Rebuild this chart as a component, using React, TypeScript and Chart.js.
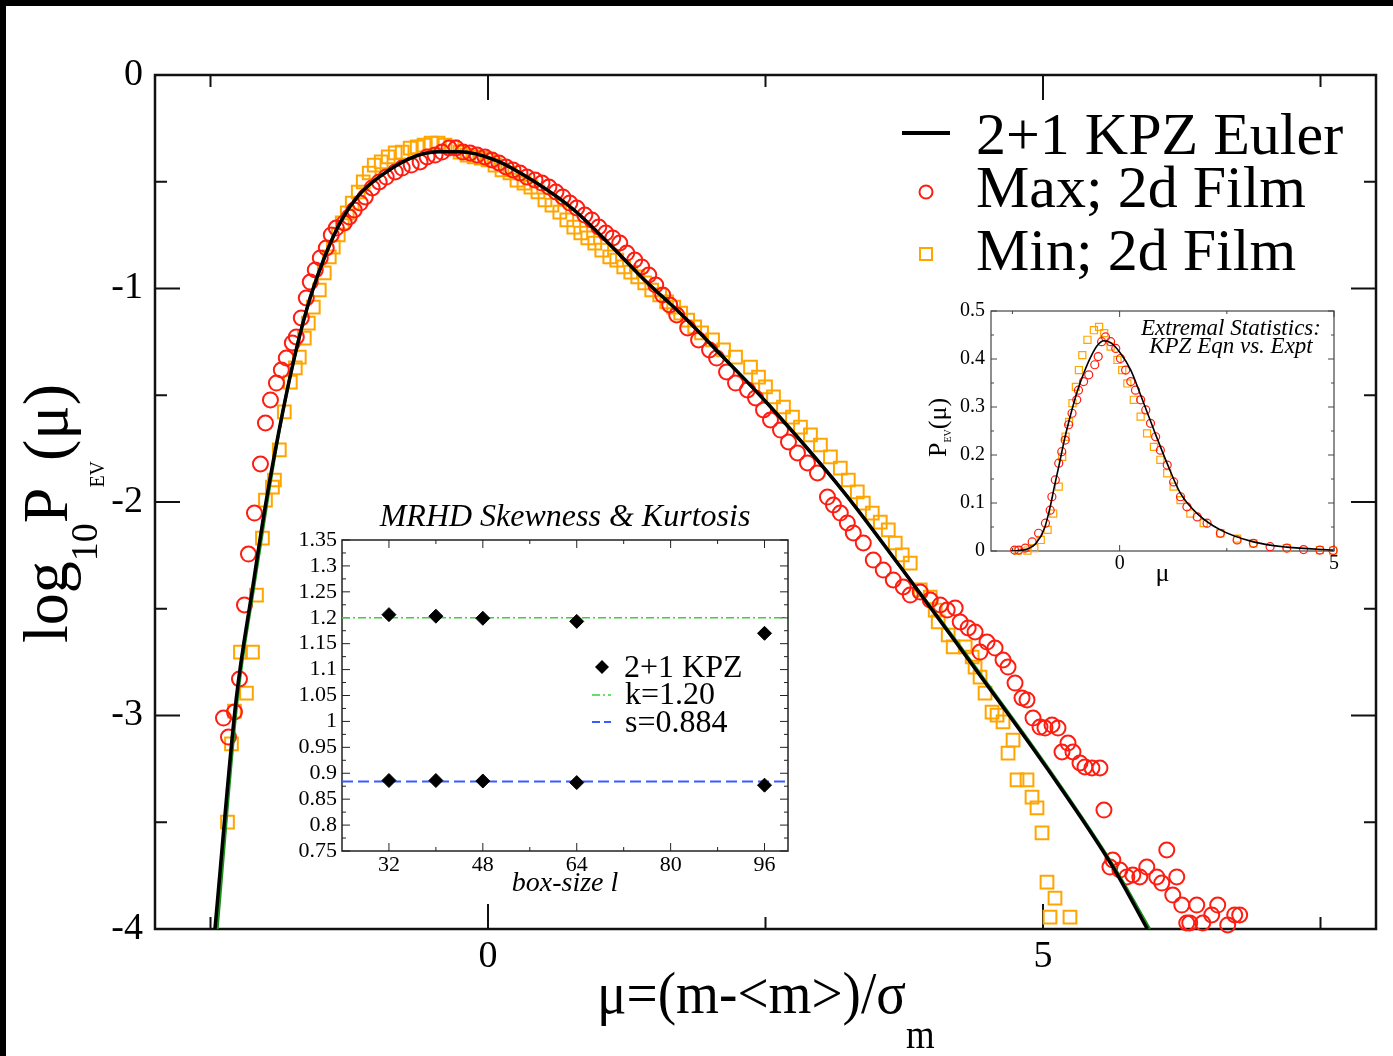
import React, { useEffect, useRef } from 'react';
import { Chart, registerables } from 'chart.js';

Chart.register(...registerables);

const SERIF = '"Liberation Serif", "Times New Roman", Times, serif';
const RED = 'rgb(255,28,16)';
const ORANGE = 'rgb(255,165,0)';
const GREEN = '#33d633';
const BLUE = '#3a5cff';

// ---------------- main plot: log10 P_EV(mu) ----------------
const kpzMu = [-2.46, -2.27, -2.12, -2.0, -1.85, -1.72, -1.6, -1.47, -1.32, -1.16, -0.96, -0.7, -0.45, -0.26, 0.07, 0.45, 0.77, 1.09, 1.41, 1.74, 2.06, 2.52, 3.2, 3.71, 4.22, 4.43, 5.04, 5.63, 5.94];
const kpzLogP = [-4.0, -2.93, -2.4, -2.0, -1.58, -1.27, -1.04, -0.85, -0.68, -0.56, -0.47, -0.39, -0.36, -0.36, -0.4, -0.51, -0.63, -0.79, -0.96, -1.12, -1.29, -1.54, -1.95, -2.3, -2.66, -2.81, -3.25, -3.71, -4.0];
const fitMu = [-2.44, -2.26, -2.11, -1.99, -1.85, -1.72, -1.6, -1.47, -1.32, -1.16, -0.96, -0.7, -0.45, -0.26, 0.07, 0.45, 0.77, 1.09, 1.41, 1.74, 2.06, 2.52, 3.2, 3.71, 4.23, 4.44, 5.05, 5.64, 5.96];
const fitLogP = [-4.0, -2.93, -2.4, -2.0, -1.58, -1.27, -1.04, -0.85, -0.68, -0.56, -0.47, -0.39, -0.36, -0.36, -0.4, -0.51, -0.63, -0.79, -0.96, -1.12, -1.29, -1.54, -1.95, -2.3, -2.66, -2.81, -3.25, -3.71, -4.0];

const maxMu = [
  -2.383, -2.338, -2.284, -2.239, -2.194, -2.158, -2.104, -2.05, -2.005, -1.96, -1.906, -1.862, -1.817, -1.763, -1.727, -1.682, -1.637, -1.601, -1.556, -1.511,
  -1.457, -1.412, -1.367, -1.295, -1.25, -1.205, -1.151, -1.106, -1.043, -0.98, -0.917, -0.836, -0.773, -0.692, -0.612, -0.549, -0.477, -0.414, -0.351, -0.288,
  -0.225, -0.162, -0.099, -0.027, 0.036, 0.099, 0.162, 0.225, 0.288, 0.351, 0.423, 0.486, 0.549, 0.612, 0.674, 0.737, 0.8, 0.872, 0.935, 0.998,
  1.061, 1.124, 1.187, 1.25, 1.322, 1.385, 1.448, 1.511, 1.574, 1.637, 1.7, 1.799, 1.897, 1.996, 2.059, 2.149, 2.23,
  2.338, 2.41, 2.482, 2.545, 2.635, 2.707, 2.788, 2.878, 2.968, 3.058, 3.112, 3.174, 3.237, 3.291, 3.381, 3.471, 3.561, 3.651, 3.741,
  3.804, 3.894, 3.984, 4.074, 4.137, 4.209, 4.254, 4.326, 4.388, 4.433, 4.496, 4.568, 4.64, 4.685, 4.748, 4.811, 4.856, 4.91, 4.973, 5.018,
  5.081, 5.135, 5.171, 5.225, 5.27, 5.333, 5.378, 5.441, 5.513, 5.549, 5.603, 5.629, 5.693, 5.755, 5.809, 5.872, 5.935, 6.025, 6.07, 6.115,
  6.169, 6.205, 6.25, 6.295, 6.322, 6.385, 6.439, 6.52, 6.574, 6.664, 6.727, 6.772,
];
const maxLogP = [
  -3.012, -3.101, -2.984, -2.829, -2.482, -2.244, -2.052, -1.822, -1.63, -1.522, -1.443, -1.382, -1.326, -1.255, -1.227, -1.138, -1.044, -0.97, -0.913, -0.857,
  -0.81, -0.749, -0.717, -0.693, -0.665, -0.632, -0.6, -0.571, -0.529, -0.501, -0.478, -0.454, -0.436, -0.422, -0.407, -0.384, -0.375, -0.361, -0.342, -0.342,
  -0.361, -0.365, -0.375, -0.384, -0.398, -0.412, -0.431, -0.445, -0.459, -0.478, -0.492, -0.506, -0.525, -0.548, -0.571, -0.6, -0.623, -0.656, -0.679, -0.712,
  -0.74, -0.763, -0.787, -0.834, -0.867, -0.899, -0.937, -0.984, -1.03, -1.077, -1.124, -1.185, -1.241, -1.288, -1.326, -1.391, -1.443,
  -1.475, -1.513, -1.569, -1.616, -1.663, -1.719, -1.77, -1.817, -1.864, -1.977, -2.014, -2.052, -2.098, -2.145, -2.192, -2.272, -2.319, -2.365, -2.398,
  -2.436, -2.422, -2.459, -2.482, -2.506, -2.496, -2.562, -2.59, -2.609, -2.703, -2.656, -2.684, -2.74, -2.773, -2.848, -2.918, -2.927, -3.012, -3.054, -3.059,
  -3.044, -3.059, -3.171, -3.129, -3.171, -3.222, -3.241, -3.246, -3.246, -3.443, -3.71, -3.677, -3.724, -3.756, -3.747, -3.756, -3.71, -3.756, -3.785, -3.63,
  -3.841, -3.756, -3.888, -3.972, -3.972, -3.888, -3.972, -3.934, -3.888, -3.981, -3.934, -3.934,
];

const minMu = [
  -2.347, -2.311, -2.284, -2.176, -2.23, -2.122, -2.086, -2.032, -2.005, -1.942, -1.924, -1.88, -1.835, -1.781, -1.736, -1.7, -1.655, -1.619, -1.574, -1.52,
  -1.475, -1.43, -1.394, -1.349, -1.313, -1.268, -1.223, -1.169, -1.124, -1.07, -1.025, -0.962, -0.899, -0.836, -0.773, -0.701, -0.638, -0.576, -0.513, -0.45,
  -0.387, -0.324, -0.252, -0.189, -0.126, -0.063, 0.0, 0.063, 0.126, 0.198, 0.261, 0.324, 0.387, 0.45, 0.513, 0.576, 0.647, 0.71, 0.773, 0.836,
  0.899, 0.962, 1.025, 1.097, 1.16, 1.223, 1.286, 1.349, 1.412, 1.475, 1.547, 1.61, 1.673, 1.736, 1.799, 1.862, 1.924, 2.023, 2.122, 2.23,
  2.365, 2.437, 2.5, 2.572, 2.662, 2.743, 2.815, 2.905, 2.995, 3.085, 3.174, 3.246, 3.327, 3.381, 3.462, 3.534, 3.606, 3.669, 3.732, 3.804,
  3.894, 3.984, 4.029, 4.056, 4.146, 4.191, 4.299, 4.362, 4.388, 4.433, 4.478, 4.541, 4.586, 4.64, 4.73, 4.685, 4.766, 4.856, 4.901, 4.946,
  4.991, 5.036, 5.108, 5.063, 5.243,
];
const minLogP = [
  -3.499, -3.133, -2.979, -2.895, -2.703, -2.703, -2.436, -2.169, -1.991, -1.93, -1.897, -1.756, -1.578, -1.438, -1.372, -1.321, -1.232, -1.162, -1.087, -1.007,
  -0.927, -0.852, -0.806, -0.749, -0.693, -0.646, -0.6, -0.548, -0.501, -0.459, -0.422, -0.407, -0.384, -0.365, -0.361, -0.342, -0.337, -0.328, -0.319, -0.319,
  -0.328, -0.337, -0.361, -0.375, -0.384, -0.389, -0.398, -0.422, -0.445, -0.459, -0.492, -0.506, -0.525, -0.548, -0.585, -0.609, -0.642, -0.679, -0.712, -0.74,
  -0.763, -0.787, -0.82, -0.852, -0.867, -0.899, -0.923, -0.946, -0.974, -1.007, -1.03, -1.063, -1.087, -1.115, -1.148, -1.18, -1.208, -1.241, -1.288, -1.321,
  -1.368, -1.415, -1.461, -1.508, -1.555, -1.602, -1.649, -1.686, -1.733, -1.789, -1.841, -1.897, -1.953, -2.005, -2.052, -2.094, -2.131, -2.192, -2.248, -2.286,
  -2.412, -2.445, -2.506, -2.562, -2.623, -2.679, -2.679, -2.726, -2.773, -2.82, -2.895, -2.984, -2.998, -3.03, -3.115, -3.176, -3.302, -3.302, -3.382, -3.433,
  -3.55, -3.78, -3.855, -3.944, -3.944,
];

const mainXRange = [-3, 8];
const mainYRange = [-4, 0];
const mainXTicks = [0, 5];
const mainXMinor = [-2.5, 2.5, 7.5];
const mainYTicks = [-4, -3, -2, -1, 0];
const mainYMinor = [-3.5, -2.5, -1.5, -0.5];

// ---------------- inset: skewness & kurtosis ----------------
const boxSizes = [32, 40, 48, 64, 96];
const kurtosis = [1.206, 1.203, 1.199, 1.193, 1.17];
const skewness = [0.886, 0.886, 0.885, 0.882, 0.877];
const kurtosisRef = 1.2;
const skewnessRef = 0.884;
const boxRange = [24, 100];
const momentRange = [0.75, 1.35];
const boxTicks = [32, 48, 64, 80, 96];
const boxMinor = [40, 56, 72, 88];
const momentTicks = [0.75, 0.8, 0.85, 0.9, 0.95, 1, 1.05, 1.1, 1.15, 1.2, 1.25, 1.3, 1.35];
const momentMinor = [0.775, 0.825, 0.875, 0.925, 0.975, 1.025, 1.075, 1.125, 1.175, 1.225, 1.275, 1.325];

// ---------------- inset: linear P_EV(mu) ----------------
const linKpzMu = [-2.53, -2.15, -1.95, -1.75, -1.62, -1.52, -1.41, -1.28, -1.14, -0.98, -0.83, -0.67, -0.52, -0.37, -0.21, 0.02, 0.26, 0.49, 0.8, 1.11, 1.42, 1.81, 2.35, 3.12, 3.9, 4.98];
const linKpzP = [0.0, 0.004, 0.016, 0.048, 0.092, 0.135, 0.18, 0.235, 0.285, 0.335, 0.372, 0.405, 0.428, 0.438, 0.434, 0.412, 0.377, 0.325, 0.252, 0.182, 0.12, 0.078, 0.044, 0.019, 0.008, 0.002];
const linMaxMu = [-2.45, -2.35, -2.2, -2.04, -1.89, -1.73, -1.62, -1.58, -1.5, -1.42, -1.35, -1.27, -1.19, -1.11, -1.0, -0.96, -0.84, -0.72, -0.58, -0.5, -0.42, -0.33, -0.21, -0.09, 0.02, 0.14, 0.26, 0.37, 0.49, 0.61, 0.72, 0.84, 0.95, 1.11, 1.26, 1.42, 1.57, 1.81, 2.04, 2.35, 2.74, 3.12, 3.51, 3.9, 4.29, 4.67, 4.98];
const linMaxP = [0.002, 0.002, 0.006, 0.019, 0.037, 0.058, 0.085, 0.113, 0.148, 0.183, 0.207, 0.231, 0.263, 0.287, 0.315, 0.335, 0.353, 0.367, 0.388, 0.405, 0.436, 0.446, 0.436, 0.422, 0.401, 0.377, 0.353, 0.335, 0.315, 0.294, 0.266, 0.238, 0.21, 0.179, 0.144, 0.113, 0.092, 0.071, 0.058, 0.037, 0.023, 0.016, 0.009, 0.006, 0.003, 0.002, 0.001];
const linMinMu = [-2.38, -2.15, -1.99, -1.84, -1.68, -1.55, -1.42, -1.34, -1.26, -1.18, -1.1, -1.02, -0.95, -0.87, -0.75, -0.6, -0.48, -0.36, -0.21, -0.05, 0.06, 0.18, 0.33, 0.49, 0.64, 0.8, 0.95, 1.11, 1.26, 1.42, 1.65, 1.96, 2.35, 2.74, 3.12, 3.9, 4.67, 4.98];
const linMinP = [0.001, 0.001, 0.006, 0.023, 0.044, 0.078, 0.134, 0.196, 0.238, 0.269, 0.308, 0.342, 0.377, 0.408, 0.44, 0.46, 0.467, 0.454, 0.426, 0.398, 0.377, 0.349, 0.315, 0.28, 0.245, 0.217, 0.19, 0.162, 0.134, 0.106, 0.078, 0.058, 0.037, 0.026, 0.016, 0.006, 0.002, 0.001];
const linXRange = [-3, 5];
const linYRange = [0, 0.5];
const linXTicks = [0, 5];
const linXMinor = [-2.5, 2.5];
const linYTicks = [0, 0.1, 0.2, 0.3, 0.4, 0.5];
const linYMinor = [0.05, 0.15, 0.25, 0.35, 0.45];

const pts = (xs: number[], ys: number[]) => xs.map((x, i) => ({ x, y: ys[i] }));

type FrameCfg = {
  xMajor: number[]; xMinor: number[]; yMajor: number[]; yMinor: number[];
  major: number; minor: number; tickWidth: number; frameWidth: number; color: string;
};

const makeFrame = (cfg: FrameCfg) => ({
  id: 'frameTicks',
  beforeDatasetsDraw(chart: any) {
    const { ctx, chartArea: a, scales } = chart;
    const sx = scales.x;
    const sy = scales.y;
    ctx.save();
    ctx.strokeStyle = cfg.color;
    ctx.lineWidth = cfg.tickWidth;
    ctx.beginPath();
    const vx = (vals: number[], len: number) => vals.forEach((v) => {
      const p = sx.getPixelForValue(v);
      ctx.moveTo(p, a.bottom); ctx.lineTo(p, a.bottom - len);
      ctx.moveTo(p, a.top); ctx.lineTo(p, a.top + len);
    });
    const vy = (vals: number[], len: number) => vals.forEach((v) => {
      const p = sy.getPixelForValue(v);
      ctx.moveTo(a.left, p); ctx.lineTo(a.left + len, p);
      ctx.moveTo(a.right, p); ctx.lineTo(a.right - len, p);
    });
    vx(cfg.xMajor, cfg.major); vx(cfg.xMinor, cfg.minor);
    vy(cfg.yMajor, cfg.major); vy(cfg.yMinor, cfg.minor);
    ctx.stroke();
    ctx.lineWidth = cfg.frameWidth;
    ctx.strokeRect(a.left, a.top, a.right - a.left, a.bottom - a.top);
    ctx.restore();
  },
});

const axis = (range: number[], ticks: number[], size: number, padding: number, fit: (s: any) => void, extra: any = {}) => ({
  type: 'linear',
  min: range[0],
  max: range[1],
  grid: { display: false, drawTicks: false },
  border: { display: false },
  afterBuildTicks: (s: any) => { s.ticks = ticks.map((v) => ({ value: v })); },
  afterFit: fit,
  ticks: { autoSkip: false, font: { family: SERIF, size }, color: '#000', padding, callback: (v: any) => String(v) },
  ...extra,
});

function useChart(ref: React.RefObject<HTMLCanvasElement>, make: (c: HTMLCanvasElement) => Chart) {
  useEffect(() => {
    if (!ref.current) return;
    const ch = make(ref.current);
    return () => ch.destroy();
  }, []);
}

const T = ({ x, base, size, italic, anchor = 'start', children }: any) => {
  const style: any = {
    position: 'absolute', top: base - 0.8375 * size, fontFamily: SERIF, fontSize: size, lineHeight: 1,
    whiteSpace: 'nowrap', fontStyle: italic ? 'italic' : 'normal', color: '#000', margin: 0,
  };
  if (anchor === 'middle') { style.left = x - 400; style.width = 800; style.textAlign = 'center'; } else style.left = x;
  return <div style={style}>{children}</div>;
};

export default function App() {
  const mainRef = useRef<HTMLCanvasElement>(null);
  const momRef = useRef<HTMLCanvasElement>(null);
  const linRef = useRef<HTMLCanvasElement>(null);

  useChart(mainRef, (c) => new Chart(c, {
    type: 'scatter',
    data: {
      datasets: [
        { label: 'fit', data: pts(fitMu, fitLogP), showLine: true, borderColor: '#1b8f1b', borderWidth: 3, pointRadius: 0, cubicInterpolationMode: 'monotone', order: 1 },
        { label: '2+1 KPZ Euler', data: pts(kpzMu, kpzLogP), showLine: true, borderColor: '#000', borderWidth: 3.5, pointRadius: 0, cubicInterpolationMode: 'monotone', order: 0 },
        { label: 'Max; 2d Film', data: pts(maxMu, maxLogP), showLine: false, pointStyle: 'circle', pointRadius: 7.5, pointBorderWidth: 2, borderColor: RED, pointBorderColor: RED, pointBackgroundColor: 'rgba(0,0,0,0)', backgroundColor: 'rgba(0,0,0,0)', clip: false, order: 2 },
        { label: 'Min; 2d Film', data: pts(minMu, minLogP), showLine: false, pointStyle: 'rect', pointRadius: 9, pointBorderWidth: 2, borderColor: ORANGE, pointBorderColor: ORANGE, pointBackgroundColor: 'rgba(0,0,0,0)', backgroundColor: 'rgba(0,0,0,0)', clip: false, order: 3 },
      ] as any,
    },
    options: {
      responsive: false, animation: false, devicePixelRatio: 1, events: [],
      layout: { padding: { left: 0, top: 75, right: 17, bottom: 0 } },
      plugins: { legend: { display: false }, tooltip: { enabled: false } },
      scales: {
        x: axis(mainXRange, mainXTicks, 38, 5, (s) => { s.height = 127; }),
        y: axis(mainYRange, mainYTicks, 38, 12, (s) => { s.width = 155; }),
      } as any,
    },
    plugins: [makeFrame({ xMajor: mainXTicks, xMinor: mainXMinor, yMajor: mainYTicks, yMinor: mainYMinor, major: 25, minor: 12, tickWidth: 2, frameWidth: 2.5, color: '#111' })],
  } as any));

  useChart(momRef, (c) => new Chart(c, {
    type: 'scatter',
    data: {
      datasets: [
        { label: '2+1 KPZ kurtosis', data: pts(boxSizes, kurtosis), pointStyle: 'rectRot', pointRadius: 7, pointBackgroundColor: '#000', pointBorderColor: '#000', backgroundColor: '#000', borderColor: '#000', order: 0 },
        { label: '2+1 KPZ skewness', data: pts(boxSizes, skewness), pointStyle: 'rectRot', pointRadius: 7, pointBackgroundColor: '#000', pointBorderColor: '#000', backgroundColor: '#000', borderColor: '#000', order: 0 },
        { label: 'k=1.20', data: pts(boxRange, [kurtosisRef, kurtosisRef]), showLine: true, pointRadius: 0, borderColor: GREEN, borderWidth: 1.5, borderDash: [8, 3, 2, 3], order: 1 },
        { label: 's=0.884', data: pts(boxRange, [skewnessRef, skewnessRef]), showLine: true, pointRadius: 0, borderColor: BLUE, borderWidth: 2, borderDash: [11, 5], order: 1 },
      ] as any,
    },
    options: {
      responsive: false, animation: false, devicePixelRatio: 1, events: [],
      layout: { padding: { left: 0, top: 0, right: 0, bottom: 0 } },
      plugins: {
        legend: { display: false }, tooltip: { enabled: false },
        title: { display: true, text: 'MRHD Skewness & Kurtosis', color: '#000', font: { family: SERIF, size: 32, style: 'italic', weight: 'normal', lineHeight: 1.1 }, padding: { top: 0, bottom: 4.8 } },
      },
      scales: {
        x: axis(boxRange, boxTicks, 22, 1, (s) => { s.height = 59; }, {
          title: { display: true, text: 'box-size l', color: '#000', font: { family: SERIF, size: 28, style: 'italic' }, padding: { top: 0, bottom: 9.6 } },
        }),
        y: axis(momentRange, momentTicks, 22, 5, (s) => { s.width = 62; }),
        yRight: {
          type: 'linear', position: 'right', display: true, min: 0, max: 1,
          grid: { display: false, drawTicks: false }, border: { display: false },
          ticks: { display: false }, afterFit: (s: any) => { s.width = 62; },
        },
      } as any,
    },
    plugins: [makeFrame({ xMajor: boxTicks, xMinor: boxMinor, yMajor: momentTicks, yMinor: momentMinor, major: 8, minor: 4, tickWidth: 1, frameWidth: 1.5, color: '#222' })],
  } as any));

  useChart(linRef, (c) => new Chart(c, {
    type: 'scatter',
    data: {
      datasets: [
        { label: '2+1 KPZ Euler', data: pts(linKpzMu, linKpzP), showLine: true, borderColor: '#000', borderWidth: 1.6, pointRadius: 0, cubicInterpolationMode: 'monotone', order: 0 },
        { label: 'Max; 2d Film', data: pts(linMaxMu, linMaxP), showLine: false, pointStyle: 'circle', pointRadius: 4, pointBorderWidth: 1.2, pointBorderColor: RED, borderColor: RED, pointBackgroundColor: 'rgba(0,0,0,0)', clip: false, order: 1 },
        { label: 'Min; 2d Film', data: pts(linMinMu, linMinP), showLine: false, pointStyle: 'rect', pointRadius: 5, pointBorderWidth: 1.2, pointBorderColor: ORANGE, borderColor: ORANGE, pointBackgroundColor: 'rgba(0,0,0,0)', clip: false, order: 2 },
      ] as any,
    },
    options: {
      responsive: false, animation: false, devicePixelRatio: 1, events: [],
      layout: { padding: { left: 0, top: 21, right: 26, bottom: 0 } },
      plugins: { legend: { display: false }, tooltip: { enabled: false } },
      scales: {
        x: axis(linXRange, linXTicks, 20, 1, (s) => { s.height = 49; }, {
          title: { display: true, text: 'μ', color: '#000', font: { family: SERIF, size: 26 }, padding: { top: 0, bottom: 10 } },
        }),
        y: axis(linYRange, linYTicks, 20, 6, (s) => { s.width = 51; }),
      } as any,
    },
    plugins: [makeFrame({ xMajor: linXTicks, xMinor: linXMinor, yMajor: linYTicks, yMinor: linYMinor, major: 6, minor: 3, tickWidth: 1, frameWidth: 1.2, color: '#444' })],
  } as any));

  const abs: any = { position: 'absolute' };

  return (
    <div style={{ position: 'absolute', left: 0, top: 0, width: 1393, height: 1056, background: '#fff', overflow: 'hidden' }}>
      <canvas ref={mainRef} width={1393} height={1056} style={{ ...abs, left: 0, top: 0, width: 1393, height: 1056 }} />
      <canvas ref={momRef} width={570} height={410} style={{ ...abs, left: 280, top: 500, width: 570, height: 410 }} />
      <canvas ref={linRef} width={420} height={310} style={{ ...abs, left: 940, top: 290, width: 420, height: 310 }} />

      {/* main y axis title */}
      <div style={{ ...abs, left: 68 - 0.8375 * 64, top: 643, transformOrigin: '0 0', transform: 'rotate(-90deg)', fontFamily: SERIF, fontSize: 64, lineHeight: 1, whiteSpace: 'nowrap', color: '#000' }}>
        log<span style={{ fontSize: 38, position: 'relative', top: 30 }}>10</span>P<span style={{ fontSize: 20, position: 'relative', top: 37 }}>EV</span>(μ)
      </div>
      {/* main x axis title */}
      <div style={{ ...abs, left: 597, top: 1013 - 0.8375 * 60, transformOrigin: '0 0', transform: 'scaleX(0.92)', fontFamily: SERIF, fontSize: 60, lineHeight: 1, whiteSpace: 'nowrap', color: '#000' }}>
        {'μ=(m-<m>)/σ'}<span style={{ fontSize: 40, position: 'relative', top: 35 }}>m</span>
      </div>

      {/* inset 2 y axis title */}
      <div style={{ ...abs, left: 947 - 0.8375 * 26, top: 457, transformOrigin: '0 0', transform: 'rotate(-90deg)', fontFamily: SERIF, fontSize: 26, lineHeight: 1, whiteSpace: 'nowrap', color: '#000' }}>
        P<span style={{ fontSize: 10, position: 'relative', top: 5 }}>EV</span>(μ)
      </div>
      <T x={1231} base={335} size={23} italic anchor="middle">Extremal Statistics:</T>
      <T x={1231} base={353} size={23} italic anchor="middle">KPZ Eqn vs. Expt</T>

      {/* main legend */}
      <T x={976} base={154} size={60}>2+1 KPZ Euler</T>
      <T x={976} base={207} size={60}>Max; 2d Film</T>
      <T x={976} base={270} size={60}>Min; 2d Film</T>

      {/* inset 1 legend */}
      <T x={624} base={677} size={32}>2+1 KPZ</T>
      <T x={625} base={704} size={32}>k=1.20</T>
      <T x={625} base={732} size={32}>s=0.884</T>

      <svg width={1393} height={1056} style={{ ...abs, left: 0, top: 0, pointerEvents: 'none' }}>
        <line x1={902} y1={133} x2={950} y2={133} stroke="#000" strokeWidth={4} />
        <circle cx={926} cy={192} r={6.5} fill="none" stroke={RED} strokeWidth={2} />
        <rect x={920} y={248} width={12} height={12} fill="none" stroke={ORANGE} strokeWidth={2} />
        <polygon points="602,660 609,667 602,674 595,667" fill="#000" />
        <line x1={592} y1={695} x2={611} y2={695} stroke={GREEN} strokeWidth={1.5} strokeDasharray="8 3 2 3" />
        <line x1={592} y1={722} x2={611} y2={722} stroke={BLUE} strokeWidth={2} strokeDasharray="8 4" />
      </svg>

      <div style={{ ...abs, left: 0, top: 0, width: 1393, height: 6, background: '#000' }} />
      <div style={{ ...abs, left: 0, top: 0, width: 6, height: 1056, background: '#000' }} />
    </div>
  );
}
